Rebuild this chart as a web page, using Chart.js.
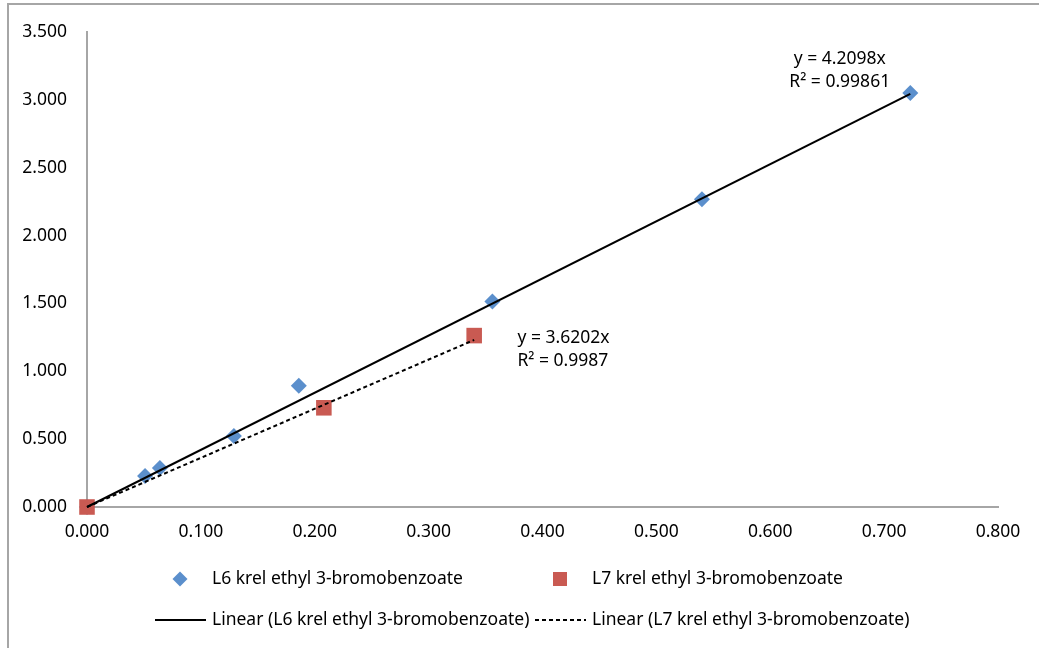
<!DOCTYPE html>
<html>
<head>
<meta charset="utf-8">
<script src="https://cdn.jsdelivr.net/npm/chart.js@4"></script>
<style>
  body { margin: 0; background: #fff; }
  #wrap { position: relative; width: 1039px; height: 648px; }
  #frame { position: absolute; left: 7px; top: 3px; right: -4px; bottom: -4px; border-top: 2px solid #a6a6a6; border-left: 2px solid #a6a6a6; }
  canvas { position: absolute; left: 0; top: 0; }
</style>
</head>
<body>
<div id="wrap">
  <div id="frame"></div>
  <canvas id="krelChart" width="1039" height="648"></canvas>
</div>
<script>
// L6 krel ethyl 3-bromobenzoate (blue diamonds)
const l6X = [0.000, 0.051, 0.064, 0.129, 0.186, 0.356, 0.540, 0.723];
const l6Y = [0.000, 0.229, 0.288, 0.524, 0.894, 1.514, 2.267, 3.050];
// L7 krel ethyl 3-bromobenzoate (red squares)
const l7X = [0.000, 0.208, 0.340];
const l7Y = [0.000, 0.731, 1.263];
// trendline end points
const l6TrendX = [0.000, 0.723];
const l6TrendY = [0.000, 3.044];
const l7TrendX = [0.000, 0.340];
const l7TrendY = [0.000, 1.231];

const xTicks = ["0.000", "0.100", "0.200", "0.300", "0.400", "0.500", "0.600", "0.700", "0.800"];
const yTicks = ["0.000", "0.500", "1.000", "1.500", "2.000", "2.500", "3.000", "3.500"];

const l6Name = "L6 krel ethyl 3-bromobenzoate";
const l7Name = "L7 krel ethyl 3-bromobenzoate";

const FONT = "'Noto Sans'";
const blue = "#5b8fcc";
const red = "#c95a52";

function toPoints(xs, ys) {
	return xs.map((x, i) => ({ x: x, y: ys[i] }));
}

// equation labels + legend drawn on the canvas
const extras = {
	id: "extras",
	afterDraw(chart) {
		const ctx = chart.ctx;
		const xs = chart.scales.x;
		const ys = chart.scales.y;
		ctx.save();
		ctx.fillStyle = "#000";
		ctx.font = "17.5px " + FONT;
		ctx.textBaseline = "middle";

		ctx.textAlign = "center";
		ctx.fillText("y = 4.2098x", xs.getPixelForValue(0.661), ys.getPixelForValue(3.30));
		ctx.fillText("R² = 0.99861", xs.getPixelForValue(0.661), ys.getPixelForValue(3.13));

		ctx.textAlign = "left";
		ctx.fillText("y = 3.6202x", xs.getPixelForValue(0.378), ys.getPixelForValue(1.248));
		ctx.fillText("R² = 0.9987", xs.getPixelForValue(0.378), ys.getPixelForValue(1.078));

		// legend
		const r1 = 579, r2 = 620;
		ctx.fillStyle = blue;
		ctx.beginPath();
		ctx.moveTo(180, r1 - 7.5); ctx.lineTo(187.5, r1); ctx.lineTo(180, r1 + 7.5); ctx.lineTo(172.5, r1);
		ctx.closePath();
		ctx.fill();
		ctx.fillStyle = red;
		ctx.fillRect(553, r1 - 7, 14, 14);

		ctx.fillStyle = "#000";
		ctx.fillText(l6Name, 212, r1);
		ctx.fillText(l7Name, 592, r1);
		ctx.fillText("Linear (" + l6Name + ")", 212, r2);
		ctx.fillText("Linear (" + l7Name + ")", 592, r2);

		ctx.strokeStyle = "#000";
		ctx.lineWidth = 2;
		ctx.beginPath();
		ctx.moveTo(155, r2); ctx.lineTo(206, r2);
		ctx.stroke();
		ctx.setLineDash([4, 3]);
		ctx.beginPath();
		ctx.moveTo(535, r2); ctx.lineTo(586, r2);
		ctx.stroke();
		ctx.restore();
	}
};

new Chart(document.getElementById("krelChart"), {
	type: "scatter",
	data: {
		datasets: [
			{
				label: "Linear (" + l6Name + ")",
				type: "line",
				data: toPoints(l6TrendX, l6TrendY),
				borderColor: "#000",
				borderWidth: 2,
				pointRadius: 0,
				clip: false,
			},
			{
				label: "Linear (" + l7Name + ")",
				type: "line",
				data: toPoints(l7TrendX, l7TrendY),
				borderColor: "#000",
				borderWidth: 2,
				borderDash: [4, 3],
				pointRadius: 0,
				clip: false,
			},
			{
				label: l7Name,
				data: toPoints(l7X, l7Y),
				pointStyle: "rect",
				pointRadius: 11,
				backgroundColor: red,
				borderColor: red,
				borderWidth: 0,
				clip: false,
			},
			{
				label: l6Name,
				data: toPoints(l6X, l6Y),
				pointStyle: "rectRot",
				pointRadius: 8,
				backgroundColor: blue,
				borderColor: blue,
				borderWidth: 0,
				clip: false,
			},
		],
	},
	options: {
		responsive: false,
		animation: false,
		events: [],
		layout: { padding: { top: 32, right: 41, left: 0, bottom: 0 } },
		plugins: { legend: { display: false }, tooltip: { enabled: false } },
		scales: {
			x: {
				type: "linear",
				min: 0,
				max: 0.8,
				afterFit(scale) { scale.height = 141; },
				afterBuildTicks(scale) { scale.ticks = xTicks.map(t => ({ value: parseFloat(t) })); },
				grid: { display: true, drawOnChartArea: false, drawTicks: false },
				border: { color: "#a6a6a6", width: 2 },
				ticks: {
					padding: 15,
					color: "#000",
					font: { family: FONT, size: 17.5 },
					callback: (v, i) => xTicks[i],
				},
			},
			y: {
				type: "linear",
				min: 0,
				max: 3.5,
				afterFit(scale) { scale.width = 87; },
				afterBuildTicks(scale) { scale.ticks = yTicks.map(t => ({ value: parseFloat(t) })); },
				grid: { display: true, drawOnChartArea: false, drawTicks: false },
				border: { color: "#a6a6a6", width: 2 },
				ticks: {
					padding: 20,
					color: "#000",
					font: { family: FONT, size: 17.5 },
					callback: (v, i) => yTicks[i],
				},
			},
		},
	},
	plugins: [extras],
});
</script>
</body>
</html>
